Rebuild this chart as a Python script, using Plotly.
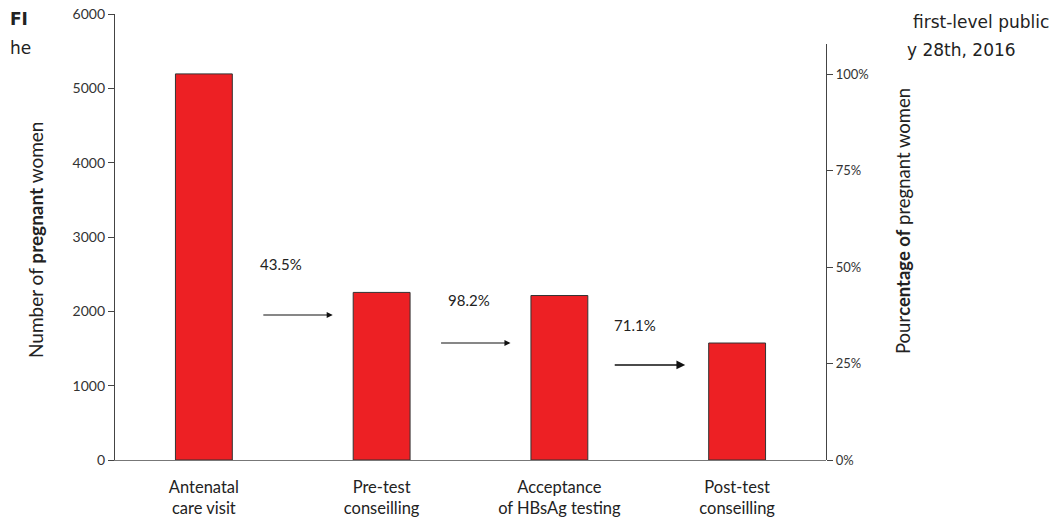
import plotly.graph_objects as go

# ---- data ----
categories = ["Antenatal<br>care visit", "Pre-test<br>conseilling",
              "Acceptance<br>of HBsAg testing", "Post-test<br>conseilling"]
counts = [5195, 2255, 2213, 1574]
step_rates = ["43.5%", "98.2%", "71.1%"]
left_ticks = [0, 1000, 2000, 3000, 4000, 5000, 6000]
right_ticks = [0, 25, 50, 75, 100]
right_ticktext = ["0%", "25%", "50%", "75%", "100%"]

# ---- geometry (page pixels; page body has an 8px margin) ----
OFF = 8
W, H = 1061 - OFF, 521 - OFF
L, R, T, B = 115 - OFF, 826 - OFF, 14 - OFF, 460 - OFF
def px(x):
    return (x - OFF - L) / (R - L)
def py(y):
    return (B - (y - OFF)) / (B - T)

xidx = list(range(len(categories)))

fig = go.Figure()
fig.add_trace(go.Bar(
    x=xidx, y=counts, width=0.32,
    marker=dict(color="#ED2024", line=dict(color="#333333", width=1)),
    showlegend=False, hoverinfo="skip"))
fig.add_trace(go.Scatter(x=[None], y=[None], yaxis="y2", showlegend=False))

font_main = "Lato"
fig.update_layout(
    width=W, height=H,
    margin=dict(l=L, r=W - R, t=T, b=H - B, autoexpand=False),
    plot_bgcolor="rgba(0,0,0,0)", paper_bgcolor="white",
    font=dict(family=font_main, color="#333333"),
    xaxis=dict(range=[-0.5, 3.5], tickvals=xidx, ticktext=categories,
               showline=True, linecolor="#777777", linewidth=1.2,
               showgrid=False, zeroline=False, ticks="", automargin=False,
               ticklabelstandoff=12, ticklabeloverflow="allow",
               tickfont=dict(family=font_main, size=16.5, color="#222222")),
    yaxis=dict(range=[0, 6001], tickvals=left_ticks, showline=True,
               linecolor="#444444", linewidth=1.2, showgrid=False, zeroline=False,
               ticks="outside", ticklen=6, tickcolor="#444444", automargin=False,
               ticklabeloverflow="allow",
               tickfont=dict(family=font_main, size=14, color="#333333")),
    yaxis2=dict(anchor="x", side="right", domain=[0, (460 - 44) / (460 - 14)],
                range=[0, 107.8], tickvals=right_ticks, ticktext=right_ticktext,
                showline=True, linecolor="#444444", linewidth=1.2,
                showgrid=False, zeroline=False, automargin=False,
                ticks="outside", ticklen=6, tickcolor="#444444",
                ticklabeloverflow="allow",
                tickfont=dict(family=font_main, size=13, color="#333333")),
)

ann = []
# step arrows between bars (data coords)
arrow_x0 = [0.326, 1.326, 2.303]
arrow_x1 = [0.725, 1.725, 2.708]
arrow_y = [1952, 1575, 1279]
arrow_w = [1.1, 1.1, 1.6]
label_x = [0.433, 1.494, 2.427]
label_y = [2638, 2153, 1817]
for i, txt in enumerate(step_rates):
    ann.append(dict(x=arrow_x1[i], y=arrow_y[i], ax=arrow_x0[i], ay=arrow_y[i],
                    xref="x", yref="y", axref="x", ayref="y", text="",
                    showarrow=True, arrowhead=2, arrowsize=1.1,
                    arrowwidth=arrow_w[i], arrowcolor="#111111"))
    ann.append(dict(x=label_x[i], y=label_y[i], xref="x", yref="y", text=txt,
                    xanchor="center", yanchor="middle",
                    showarrow=False, font=dict(family=font_main, size=15, color="#222222")))

# axis titles
ann.append(dict(x=px(35), y=py(240), xref="paper", yref="paper",
                xanchor="center", yanchor="middle",
                text="Number of <b>pregnant</b> women", textangle=-90,
                showarrow=False, font=dict(family=font_main, size=19, color="#222222")))
ann.append(dict(x=px(903), y=py(221), xref="paper", yref="paper",
                xanchor="center", yanchor="middle",
                text="Pour<b>centage of</b> pregnant women", textangle=-90,
                showarrow=False, font=dict(family=font_main, size=18.5, color="#222222")))

# partially visible caption fragments behind the figure
cap_font = dict(family="DejaVu Sans", size=17, color="#222222")
ann.append(dict(x=px(8), y=py(19), xref="paper", yref="paper", xanchor="left",
                yanchor="middle", text="<b>FI</b>", showarrow=False, font=cap_font))
ann.append(dict(x=px(8), y=py(48), xref="paper", yref="paper", xanchor="left",
                yanchor="middle", text="he", showarrow=False, font=cap_font))
ann.append(dict(x=px(911), y=py(22), xref="paper", yref="paper", xanchor="left",
                yanchor="middle", text="first-level public", showarrow=False, font=cap_font))
ann.append(dict(x=px(905), y=py(50), xref="paper", yref="paper", xanchor="left",
                yanchor="middle", text="y 28th, 2016", showarrow=False, font=cap_font))

fig.update_layout(annotations=ann)
fig.write_html("out.html")
